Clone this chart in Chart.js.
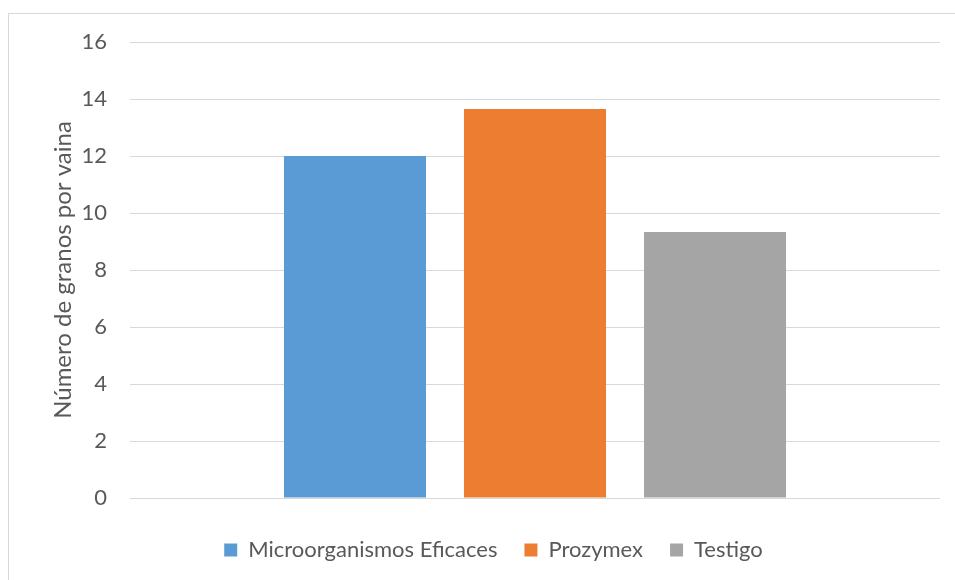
<!DOCTYPE html>
<html>
<head>
<meta charset="utf-8">
<script src="https://cdn.jsdelivr.net/npm/chart.js@4/dist/chart.umd.min.js"></script>
<style>
  html, body { margin: 0; padding: 0; background: #ffffff; overflow: hidden; }
  #wrap { position: relative; width: 955px; height: 580px; overflow: hidden; }
  #frame { position: absolute; left: 8px; top: 13px; width: 2000px; height: 2000px;
           border-left: 1px solid #d9d9d9; border-top: 1px solid #d9d9d9; }
  #c { position: absolute; left: 0; top: 0; }
</style>
</head>
<body>
<div id="wrap">
  <div id="frame"></div>
  <canvas id="c" width="955" height="571" style="width:955px;height:571px;"></canvas>
</div>
<script>
const categories = [''];
const seriesNames = ['Microorganismos Eficaces', 'Prozymex', 'Testigo'];
const seriesValues = [[12.0], [13.65], [9.33]];
const seriesColors = ['#5B9BD5', '#ED7D31', '#A5A5A5'];
const yTicks = [0, 2, 4, 6, 8, 10, 12, 14, 16];
const yTitle = 'Número de granos por vaina';

const FONT = 'Lato, "Open Sans", sans-serif';
const TXT = '#595959';

const datasets = seriesNames.map((name, i) => ({
  label: name,
  data: seriesValues[i],
  backgroundColor: seriesColors[i],
  borderWidth: 0,
  categoryPercentage: 0.6667,
  barPercentage: 0.789
}));

new Chart(document.getElementById('c'), {
  type: 'bar',
  data: { labels: categories, datasets },
  options: {
    responsive: false,
    animation: false,
    devicePixelRatio: 1,
    layout: { padding: { left: 47, right: 15, top: 42, bottom: 0 } },
    plugins: {
      tooltip: { enabled: false },
      legend: {
        position: 'bottom',
        labels: {
          boxWidth: 13, boxHeight: 13, padding: 27,
          color: TXT, font: { family: FONT, size: 22 }
        }
      }
    },
    scales: {
      x: {
        grid: { display: false, drawTicks: false },
        border: { display: false },
        ticks: { display: false },
        afterFit: s => { s.height = 14; }
      },
      y: {
        min: 0, max: 16,
        afterBuildTicks: s => { s.ticks = yTicks.map(v => ({ value: v })); },
        grid: { color: '#d9d9d9', lineWidth: 1, drawTicks: false, tickLength: 0 },
        border: { display: false },
        ticks: { padding: 23, color: TXT, font: { family: FONT, size: 22 } },
        title: {
          display: true, text: yTitle, color: TXT,
          font: { family: FONT, size: 24 },
          padding: { top: 2, bottom: 0 }
        },
        afterFit: s => { s.width = 83; }
      }
    }
  }
});
</script>
</body>
</html>
